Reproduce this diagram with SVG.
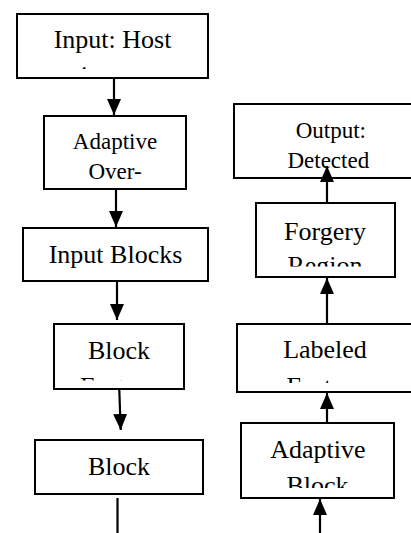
<svg xmlns="http://www.w3.org/2000/svg" width="411" height="533" viewBox="0 0 411 533">
  <style>
    .box { fill: #ffffff; stroke: #000000; stroke-width: 2; }
    text { font-family: "Liberation Serif", "Times New Roman", Times, serif; font-size: 26px; fill: #000000; text-anchor: middle; }
    text.sm { font-size: 23px; }
    .wire { fill: none; stroke: #000000; stroke-width: 2.2; }
  </style>
  <defs>
    <marker id="head" markerUnits="userSpaceOnUse" markerWidth="16" markerHeight="14" refX="16" refY="7" orient="auto">
      <path d="M0,0 L16,7 L0,14 z" fill="#000000"/>
    </marker>
    <!-- text areas: labels are cut off at the inner margin of each box -->
    <clipPath id="clip-host"><rect x="17" y="14" width="191" height="55"/></clipPath>
    <clipPath id="clip-over"><rect x="44" y="116" width="142" height="68"/></clipPath>
    <clipPath id="clip-feat"><rect x="54" y="324" width="130" height="56.5"/></clipPath>
    <clipPath id="clip-out"><rect x="234" y="104" width="190" height="74"/></clipPath>
    <clipPath id="clip-region"><rect x="256" y="203" width="139" height="63.5"/></clipPath>
    <clipPath id="clip-labeled"><rect x="237" y="324" width="190" height="59"/></clipPath>
    <clipPath id="clip-ablock"><rect x="241" y="423" width="153" height="65"/></clipPath>
  </defs>

  <rect width="411" height="533" fill="#ffffff"/>

  <g id="node-input-host">
    <rect class="box" x="17" y="14" width="191" height="64"/>
    <text font-family="Liberation Serif, serif" clip-path="url(#clip-host)"><tspan x="112.5" y="48">Input: Host</tspan><tspan x="112.5" y="84">image</tspan></text>
  </g>

  <g id="node-adaptive-over">
    <rect class="box" x="44" y="116" width="142" height="73"/>
    <text class="sm" font-family="Liberation Serif, serif" clip-path="url(#clip-over)"><tspan x="115" y="149">Adaptive</tspan><tspan x="115" y="178.5">Over-</tspan></text>
  </g>

  <g id="node-input-blocks">
    <rect class="box" x="23" y="228" width="185" height="53"/>
    <text font-family="Liberation Serif, serif" x="115.5" y="263">Input Blocks</text>
  </g>

  <g id="node-block-feature">
    <rect class="box" x="54" y="324" width="130" height="65"/>
    <text font-family="Liberation Serif, serif" clip-path="url(#clip-feat)"><tspan x="119" y="358.5">Block</tspan><tspan x="119" y="394.5">Feature</tspan></text>
  </g>

  <g id="node-block">
    <rect class="box" x="35" y="440" width="168" height="54"/>
    <text font-family="Liberation Serif, serif" x="119" y="475">Block</text>
  </g>

  <g id="node-output">
    <rect class="box" x="234" y="104" width="190" height="74"/>
    <text class="sm" font-family="Liberation Serif, serif" clip-path="url(#clip-out)"><tspan x="330.8" y="137.5">Output:</tspan><tspan x="328.3" y="167.5">Detected</tspan></text>
  </g>

  <g id="node-forgery-region">
    <rect class="box" x="256" y="203" width="139" height="74"/>
    <text font-family="Liberation Serif, serif" clip-path="url(#clip-region)"><tspan x="325" y="240">Forgery</tspan><tspan x="325" y="274">Region</tspan></text>
  </g>

  <g id="node-labeled-feature">
    <rect class="box" x="237" y="324" width="190" height="68"/>
    <text font-family="Liberation Serif, serif" clip-path="url(#clip-labeled)"><tspan x="325" y="358">Labeled</tspan><tspan x="325.5" y="395">Feature</tspan></text>
  </g>

  <g id="node-adaptive-block">
    <rect class="box" x="241" y="423" width="153" height="75"/>
    <text font-family="Liberation Serif, serif" clip-path="url(#clip-ablock)"><tspan x="317.8" y="458.3">Adaptive</tspan><tspan x="317.5" y="494">Block</tspan></text>
  </g>

  <!-- connectors drawn last so the top arrowhead sits over the output text -->
  <g id="connectors">
    <line class="wire" x1="114" y1="79" x2="114" y2="115" marker-end="url(#head)"/>
    <line class="wire" x1="116" y1="190" x2="116" y2="227" marker-end="url(#head)"/>
    <line class="wire" x1="117" y1="282" x2="117" y2="320" marker-end="url(#head)"/>
    <line class="wire" x1="119.3" y1="390" x2="120.7" y2="430" marker-end="url(#head)"/>
    <line class="wire" x1="117.5" y1="498" x2="117.5" y2="533"/>
    <line class="wire" x1="320" y1="533" x2="320" y2="499" marker-end="url(#head)"/>
    <line class="wire" x1="327" y1="422" x2="327" y2="393" marker-end="url(#head)"/>
    <line class="wire" x1="327" y1="323" x2="327" y2="278" marker-end="url(#head)"/>
    <line class="wire" x1="327" y1="202" x2="327" y2="166" marker-end="url(#head)"/>
  </g>
</svg>
